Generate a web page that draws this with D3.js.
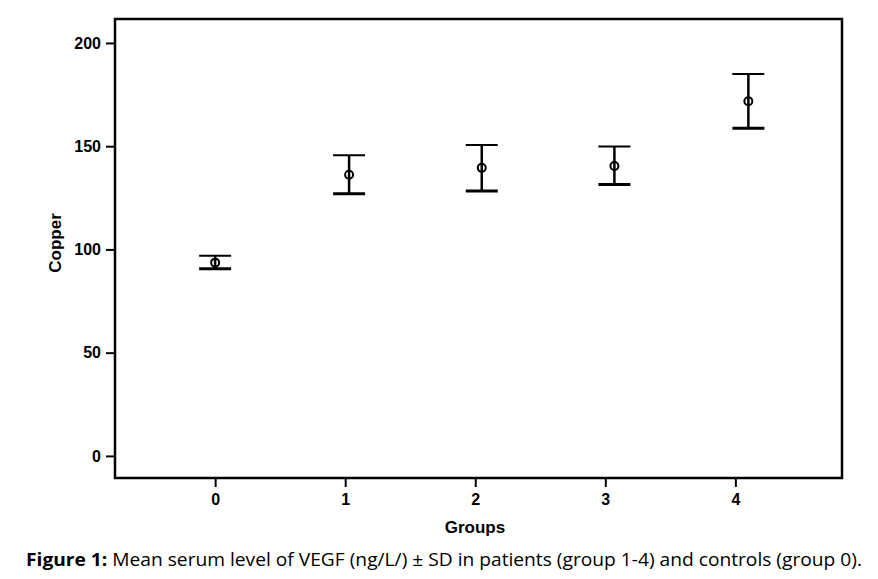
<!DOCTYPE html>
<html>
<head>
<meta charset="utf-8">
<script src="https://cdn.jsdelivr.net/npm/d3@7/dist/d3.min.js"></script>
<style>
  body { margin: 0; background: #fff; }
</style>
</head>
<body>
<script>
// values
var groups   = [0, 1, 2, 3, 4];
var xPos     = [0.0, 1.03, 2.05, 3.07, 4.1];
var means    = [93.6, 136.2, 139.5, 140.4, 171.8];
var upper    = [96.9, 145.6, 150.6, 149.8, 185.0];
var lower    = [90.6, 127.0, 128.3, 131.4, 158.7];
var yTicks   = [0, 50, 100, 150, 200];

var W = 878, H = 579;
var mLeft = 115, mRight = 842, mTop = 19, mBottom = 478;

var svg = d3.select("body").append("svg")
  .attr("width", W).attr("height", H);

var x = d3.scaleLinear().domain([-0.77, 4.82]).range([mLeft, mRight]);
var y = d3.scaleLinear().domain([-10.7, 211.6]).range([mBottom, mTop]);

// frame
svg.append("rect")
  .attr("x", mLeft).attr("y", mTop)
  .attr("width", mRight - mLeft).attr("height", mBottom - mTop)
  .attr("fill", "none").attr("stroke", "#000").attr("stroke-width", 2.5);

var yAxis = svg.append("g")
  .attr("transform", "translate(" + mLeft + ",0)")
  .call(d3.axisLeft(y).tickValues(yTicks).tickFormat(d3.format("d")).tickSize(9).tickPadding(5));
var xAxis = svg.append("g")
  .attr("transform", "translate(0," + mBottom + ")")
  .call(d3.axisBottom(x).tickValues(groups).tickFormat(d3.format("d")).tickSize(9).tickPadding(7));

[yAxis, xAxis].forEach(function (g) {
  g.select(".domain").remove();
  g.selectAll(".tick line").attr("stroke", "#000").attr("stroke-width", 2);
  g.selectAll(".tick text")
    .attr("fill", "#000")
    .style("font-family", "Liberation Sans, Arial, sans-serif")
    .style("font-weight", "bold")
    .style("font-size", "16px");
});

var data = groups.map(function (g, i) {
  return { g: g, x: xPos[i], m: means[i], hi: upper[i], lo: lower[i] };
});

var bars = svg.selectAll(".eb").data(data).enter().append("g").attr("class", "eb");

bars.append("line")
  .attr("x1", function (d) { return x(d.x); })
  .attr("x2", function (d) { return x(d.x); })
  .attr("y1", function (d) { return y(d.hi); })
  .attr("y2", function (d) { return y(d.lo); })
  .attr("stroke", "#000").attr("stroke-width", 2.5);

bars.append("line")
  .attr("x1", function (d) { return x(d.x) - 16; })
  .attr("x2", function (d) { return x(d.x) + 16; })
  .attr("y1", function (d) { return y(d.hi); })
  .attr("y2", function (d) { return y(d.hi); })
  .attr("stroke", "#000").attr("stroke-width", 2);

bars.append("line")
  .attr("x1", function (d) { return x(d.x) - 16; })
  .attr("x2", function (d) { return x(d.x) + 16; })
  .attr("y1", function (d) { return y(d.lo); })
  .attr("y2", function (d) { return y(d.lo); })
  .attr("stroke", "#000").attr("stroke-width", 3);

bars.append("circle")
  .attr("cx", function (d) { return x(d.x); })
  .attr("cy", function (d) { return y(d.m); })
  .attr("r", 4)
  .attr("fill", "none").attr("stroke", "#000").attr("stroke-width", 2);

svg.append("text")
  .attr("transform", "translate(61,243) rotate(-90)")
  .attr("text-anchor", "middle")
  .style("font-family", "Liberation Sans, Arial, sans-serif")
  .style("font-size", "17px")
  .style("font-weight", "bold")
  .text("Copper");

svg.append("text")
  .attr("x", 475).attr("y", 533)
  .attr("text-anchor", "middle")
  .style("font-family", "Liberation Sans, Arial, sans-serif")
  .style("font-size", "17px")
  .style("font-weight", "bold")
  .text("Groups");

var cap = svg.append("text")
  .attr("x", 26).attr("y", 566)
  .attr("textLength", 836).attr("lengthAdjust", "spacingAndGlyphs")
  .style("font-family", "Open Sans, sans-serif")
  .style("font-size", "18px");
cap.append("tspan").style("font-weight", "bold").text("Figure 1:");
cap.append("tspan").text(" Mean serum level of VEGF (ng/L/) \u00b1 SD in patients (group 1-4) and controls (group 0).");
</script>
</body>
</html>
